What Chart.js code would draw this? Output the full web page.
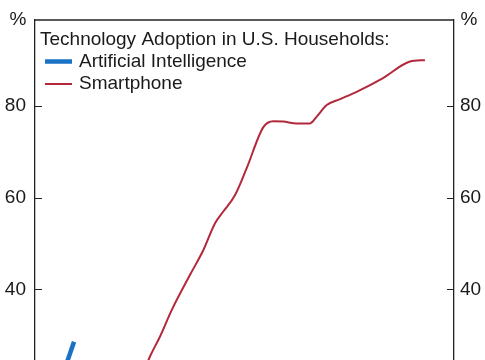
<!DOCTYPE html>
<html>
<head>
<meta charset="utf-8">
<script src="https://cdn.jsdelivr.net/npm/chart.js@4.4.1/dist/chart.umd.min.js"></script>
<style>
  html, body { margin: 0; padding: 0; background: #fff; overflow: hidden; }
  #wrap { width: 485px; height: 360px; }
</style>
</head>
<body>
<div id="wrap"><canvas id="c" width="485" height="360"></canvas></div>
<script>
// ---- data (x = years since launch, y = % of households) ----
const legendTitle = "Technology Adoption in U.S. Households:";
const seriesNames = ["Artificial Intelligence", "Smartphone"];
const aiX = [1.07, 1.49];
const aiY = [21.6, 28.6];
const phoneX = [4.12, 4.39, 4.77, 5.22, 5.92, 6.43, 6.87, 7.19, 7.64, 8.08, 8.72, 9.10, 9.48, 9.99, 10.50, 10.76, 11.14, 11.65, 12.28, 13.29, 14.32, 14.89];
const phoneY = [21.6, 25.4, 29.7, 35.5, 43.2, 48.6, 54.4, 57.0, 60.6, 66.4, 75.4, 76.7, 76.6, 76.2, 76.2, 77.7, 80.2, 81.5, 83.1, 86.1, 89.7, 90.0];
const yTickValues = [40, 60, 80];
const unitLabel = "%";

const FONT = '"Liberation Sans", Arial, Helvetica, sans-serif';
const TEXT = '#1a1a1a';
const AXIS = '#222';

const toPts = (xs, ys) => xs.map((x, i) => ({ x: x, y: ys[i] }));

const framePlugin = {
  id: 'frame',
  afterDraw(chart) {
    const { ctx, chartArea: a } = chart;
    const ys = chart.scales.y;
    ctx.save();
    ctx.strokeStyle = AXIS;
    ctx.lineWidth = 1.3;
    // top border
    ctx.beginPath();
    ctx.moveTo(a.left, a.top);
    ctx.lineTo(a.right, a.top);
    ctx.stroke();
    // inward tick marks on both sides
    ctx.lineWidth = 1;
    ys.ticks.forEach(t => {
      const py = Math.round(ys.getPixelForValue(t.value)) + 0.5;
      ctx.beginPath();
      ctx.moveTo(a.left, py); ctx.lineTo(a.left + 7, py);
      ctx.moveTo(a.right - 7, py); ctx.lineTo(a.right, py);
      ctx.stroke();
    });
    // unit labels
    ctx.fillStyle = TEXT;
    ctx.font = '19px ' + FONT;
    ctx.textBaseline = 'middle';
    ctx.textAlign = 'center';
    ctx.fillText(unitLabel, 18, 19.5);
    ctx.fillText(unitLabel, 469, 19.5);
    // legend
    ctx.textAlign = 'left';
    ctx.fillText(legendTitle, a.left + 5, a.top + 19.5);
    chart.data.datasets.forEach((ds, i) => {
      const y = a.top + 41.5 + i * 22.5;
      ctx.strokeStyle = ds.borderColor;
      ctx.lineWidth = ds.borderWidth;
      ctx.beginPath();
      ctx.moveTo(a.left + 10, y);
      ctx.lineTo(a.left + 37, y);
      ctx.stroke();
      ctx.fillStyle = TEXT;
      ctx.fillText(ds.label, a.left + 44, y);
    });
    ctx.restore();
  }
};

const tickFont = { family: FONT, size: 19 };
const yCommon = {
  type: 'linear',
  min: 24.63,
  max: 98.75,
  grid: { display: false, drawTicks: false },
  border: { display: true, color: AXIS, width: 1.3 },
  afterBuildTicks: (s) => { s.ticks = yTickValues.map(v => ({ value: v })); },
};

new Chart(document.getElementById('c'), {
  type: 'line',
  data: {
    datasets: [
      {
        label: seriesNames[0],
        data: toPts(aiX, aiY),
        borderColor: '#1a72c4',
        borderWidth: 4.5,
        borderCapStyle: 'butt',
        pointRadius: 0,
        tension: 0
      },
      {
        label: seriesNames[1],
        data: toPts(phoneX, phoneY),
        borderColor: '#b3283b',
        borderWidth: 2,
        pointRadius: 0,
        cubicInterpolationMode: 'monotone'
      }
    ]
  },
  options: {
    responsive: false,
    animation: false,
    layout: { padding: { top: 20, left: 0, right: 0, bottom: 0 } },
    plugins: { legend: { display: false }, tooltip: { enabled: false } },
    scales: {
      x: { type: 'linear', min: 0, max: 16, display: false },
      y: Object.assign({}, yCommon, {
        position: 'left',
        ticks: { font: tickFont, color: TEXT, padding: 9 },
        afterFit: (s) => { s.width = 35; s.paddingTop = 0; s.paddingBottom = 0; }
      }),
      y2: Object.assign({}, yCommon, {
        position: 'right',
        ticks: { font: tickFont, color: TEXT, padding: 6 },
        afterFit: (s) => { s.width = 31; s.paddingTop = 0; s.paddingBottom = 0; }
      })
    }
  },
  plugins: [framePlugin]
});
</script>
</body>
</html>
